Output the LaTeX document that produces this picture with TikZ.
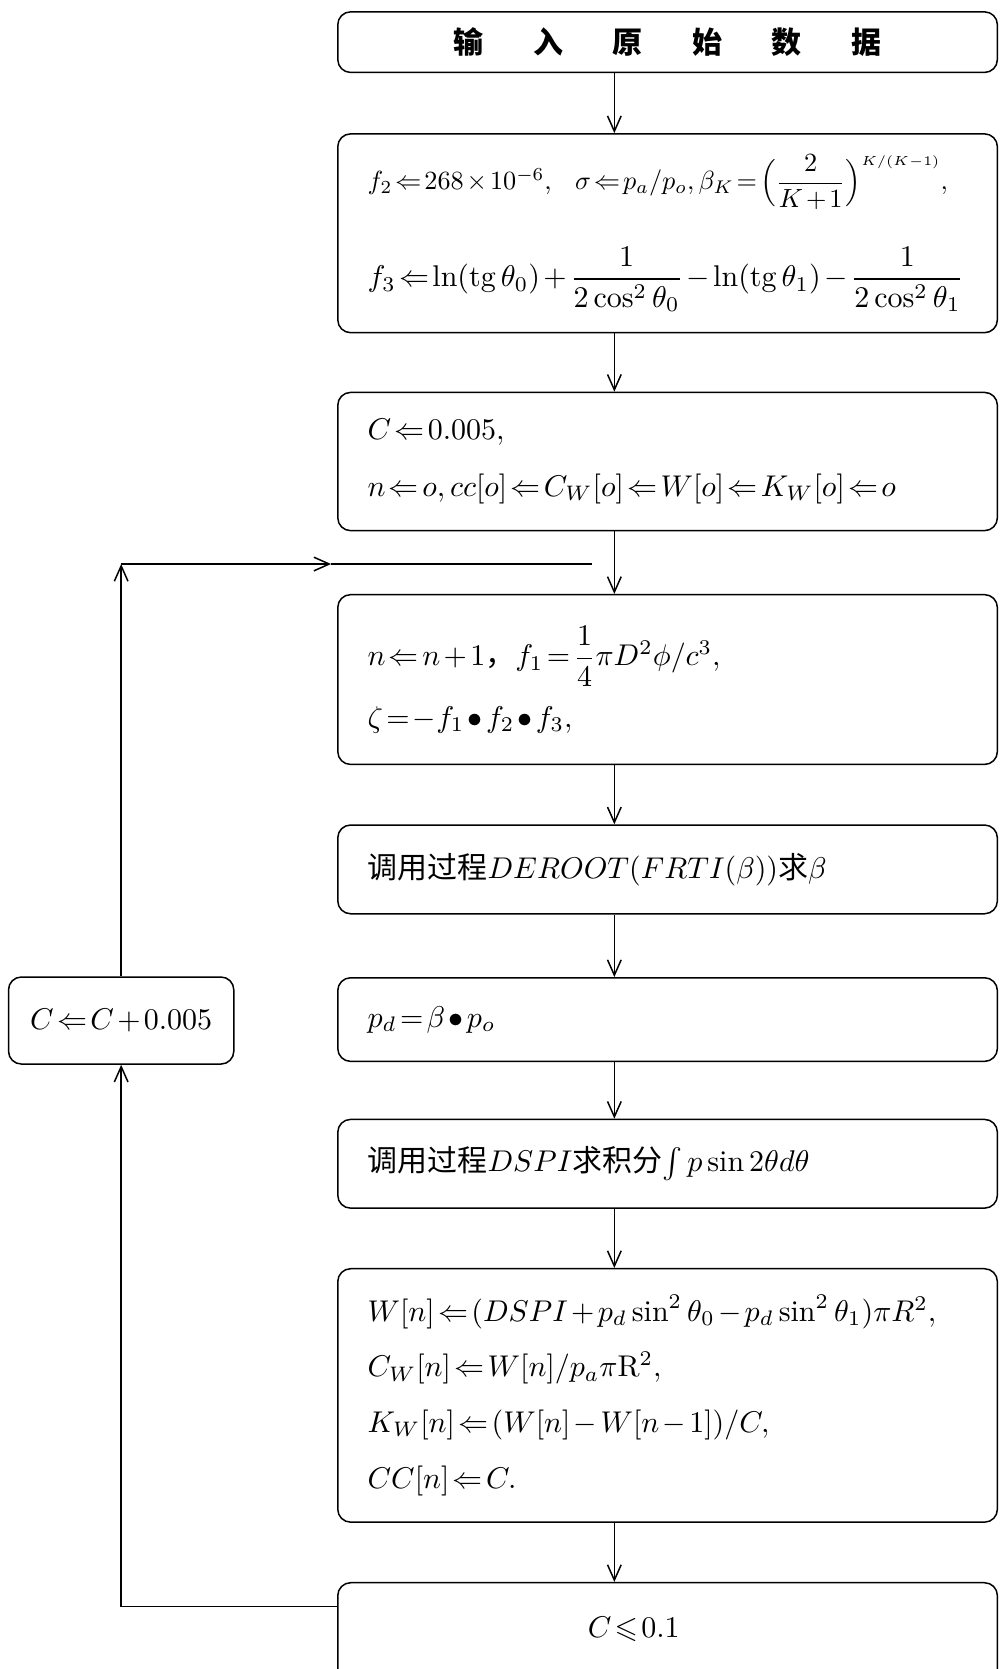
\documentclass[tikz,border=0pt]{standalone}
\usepackage{amsmath,amssymb}
\usepackage{graphicx}
\usepackage{fontspec}
\newfontfamily\cjk{Noto Sans CJK SC}
\usetikzlibrary{arrows.meta}

\tikzset{
  tight/.style={execute at begin node={\thickmuskip=2mu plus 1mu\medmuskip=2mu plus 1mu}},
  flowbox/.style={draw, tight, rounded corners=1.5mm, anchor=north west, text width=7.03cm, inner xsep=0.35cm, align=left},
  arr/.style={-{Straight Barb[length=1.8mm,width=1.6mm]}},
}

\begin{document}
\begin{tikzpicture}[line width=0.5pt]

\useasboundingbox (0,0) rectangle (11.71,-19.56);

\path (7.20,0) coordinate (trunk);

\node[flowbox, align=center, minimum height=0.71cm] (b1) at (3.95,-0.13)
  {\cjk\bfseries 输\hspace{5.8mm}入\hspace{5.8mm}原\hspace{5.8mm}始\hspace{5.8mm}数\hspace{5.8mm}据};

\node[flowbox, minimum height=2.33cm] (b2) at (3.95,-1.56)
  {\resizebox{6.8cm}{!}{$f_2\Leftarrow 268\times10^{-6}$,\;\; $\sigma\Leftarrow p_a/p_o,\beta_K=\Bigl(\dfrac{2}{K+1}\Bigr)^{\scriptscriptstyle K/(K-1)},$}\\[4mm]
   \mbox{$f_3\Leftarrow\ln(\mathrm{tg}\,\theta_0)+\dfrac{1}{2\cos^2\theta_0}-\ln(\mathrm{tg}\,\theta_1)-\dfrac{1}{2\cos^2\theta_1}$}};

\node[flowbox, minimum height=1.62cm] (b3) at (3.95,-4.59)
  {$C\Leftarrow 0.005,$\\[2.4mm]
   $n\Leftarrow o, cc[o]\Leftarrow C_W[o]\Leftarrow W[o]\Leftarrow K_W[o]\Leftarrow o$};

\node[flowbox, minimum height=1.99cm] (b4) at (3.95,-6.96)
  {$n\Leftarrow n+1${\cjk ，}$f_1=\dfrac{1}{4}\pi D^2\phi/c^3,$\\[2mm]
   $\zeta=-f_1\bullet f_2\bullet f_3,$};

\node[flowbox, minimum height=1.04cm] (b5) at (3.95,-9.66)
  {{\cjk 调用过程}$DEROOT(FRTI(\beta))${\cjk 求}$\beta$};

\node[flowbox, minimum height=0.98cm] (b6) at (3.95,-11.45)
  {$p_d=\beta\bullet p_o$};

\node[flowbox, minimum height=1.04cm] (b7) at (3.95,-13.11)
  {{\cjk 调用过程}$DSPI${\cjk 求积分}$\int p\sin2\theta d\theta$};

\node[flowbox, minimum height=2.97cm] (b8) at (3.95,-14.86)
  {$W[n]\Leftarrow(DSPI+p_d\sin^2\theta_0-p_d\sin^2\theta_1)\pi R^2,$\\[2.3mm]
   $C_W[n]\Leftarrow W[n]/p_a\pi\mathrm{R}^2,$\\[2.3mm]
   $K_W[n]\Leftarrow(W[n]-W[n-1])/C,$\\[2.3mm]
   $CC[n]\Leftarrow C.$};

\node[flowbox, minimum height=1.3cm] (b9) at (3.95,-18.54)
  {\hspace*{2.58cm}\raisebox{2.6mm}{$C\leqslant0.1$}};

\node[draw, tight, rounded corners=1.5mm, minimum width=2.64cm, minimum height=1.02cm] (cinc) at (1.42,-11.96)
  {$C\Leftarrow C+0.005$};

% main column
\foreach \a/\b in {b1/b2,b2/b3,b3/b4,b4/b5,b5/b6,b6/b7,b7/b8,b8/b9}
{
    \draw[arr] (\a.south -| trunk) -- (\b.north -| trunk);
}

% loop back
\path (3.88,-6.61) coordinate (looptip) (6.94,-6.61) coordinate (loopin);
\draw[arr] ([yshift=-2.9mm]b9.north west) -| (cinc.south);
\draw[arr] (cinc.north) -- (cinc.north |- looptip);
\draw[arr] (cinc.north |- looptip) -- (looptip);
\draw (looptip) -- (loopin);

\end{tikzpicture}
\end{document}
